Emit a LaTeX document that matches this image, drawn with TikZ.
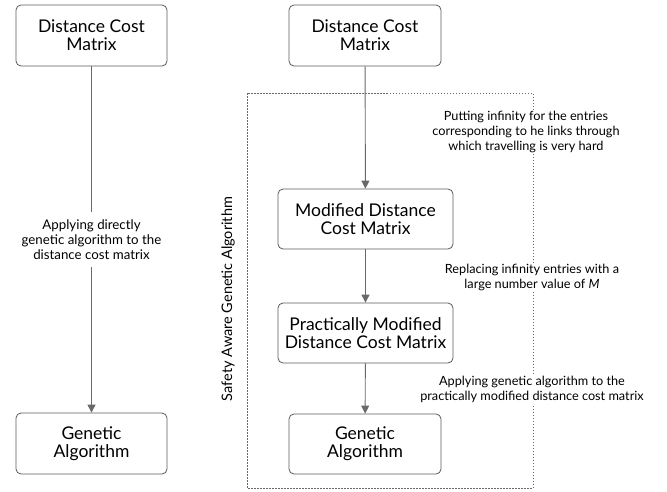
\documentclass[tikz,border=0pt]{standalone}
\usepackage{fontspec}
\setmainfont{Lato}
\usetikzlibrary{arrows.meta}
\definecolor{linegray}{RGB}{105,105,105}
\definecolor{boxgray}{RGB}{90,90,90}
\begin{document}
\begin{tikzpicture}[x=1pt,y=-1pt,
  box/.style={draw=boxgray,line width=0.8pt,rounded corners=5pt,align=center,inner sep=0pt,font=\fontsize{17.5}{17.7}\selectfont},
  lbl/.style={align=center,font=\fontsize{13.3}{15.2}\selectfont,inner sep=1pt},
  rlbl/.style={lbl,font=\fontsize{12.7}{15}\selectfont},
  conn/.style={draw=linegray,line width=0.9pt,-{Triangle[length=8pt,width=8pt]}},
  grp/.style={draw=linegray,dash pattern=on 1.5pt off 1.5pt,line width=0.7pt}]
\useasboundingbox (0,0) rectangle (667,491);
% left column
\node[box,minimum width=151pt,minimum height=61pt] (l1) at (91.5,35.5) {Distance Cost\\Matrix};
\node[box,minimum width=151pt,minimum height=61pt] (l2) at (91.5,443.5) {Genetic\\Algorithm};
\draw[conn] (l1) -- node[lbl,fill=white,inner ysep=7pt] (la) {Applying directly\\genetic algorithm to the\\distance cost matrix} (l2);
% group frame
\coordinate (g1) at (247,93);
\coordinate (g2) at (533,488);
\draw[grp] (g1) rectangle (g2);
\node[lbl,rotate=90,font=\fontsize{14.5}{15}\selectfont] (gl) at (228,299) {Safety Aware Genetic Algorithm};
% right column
\node[box,minimum width=152pt,minimum height=61pt] (r1) at (365,35.5) {Distance Cost\\Matrix};
\node[box,minimum width=175pt,minimum height=60pt] (r2) at (365.5,219) {Modified Distance\\Cost Matrix};
\node[box,minimum width=175pt,minimum height=60pt] (r3) at (365.5,333) {Practically Modified\\Distance Cost Matrix};
\node[box,minimum width=152pt,minimum height=60pt] (r4) at (365,444) {Genetic\\Algorithm};
\draw[conn] (r1) -- (r2);
\draw[conn] (r2) -- (r3);
\draw[conn] (r3) -- (r4);
\node[rlbl,fill=white] (t1) at (526,132) {Putting infinity for the entries\\corresponding to he links through\\which travelling is very hard};
\node[rlbl,fill=white] (t2) at (532,277.5) {Replacing infinity entries with a\\large number value of \textit{M}};
\node[rlbl,fill=white] (t3) at (532,389.5) {Applying genetic algorithm to the\\practically modified distance cost matrix};
\end{tikzpicture}
\end{document}
